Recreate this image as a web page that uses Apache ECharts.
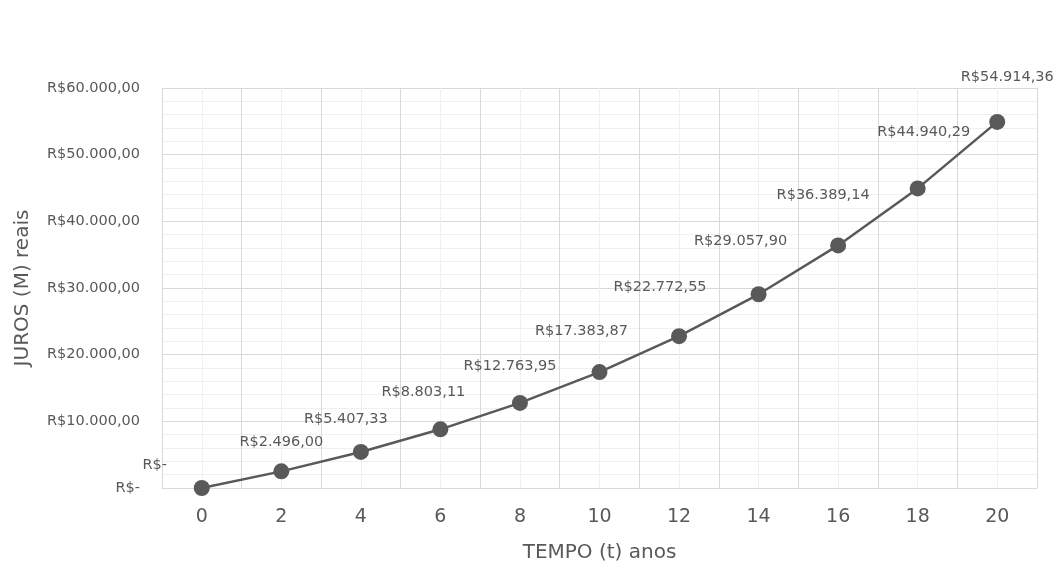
<!DOCTYPE html>
<html>
<head>
<meta charset="utf-8">
<script src="https://cdn.jsdelivr.net/npm/echarts@6/dist/echarts.min.js"></script>
<style>
  html, body { margin: 0; padding: 0; background: #fff; }
  #main { width: 1062px; height: 571px; }
</style>
</head>
<body>
<div id="main"></div>
<script>
// anos (t)
var anos = ['0', '2', '4', '6', '8', '10', '12', '14', '16', '18', '20'];
// juros (M) em reais
var juros = [0, 2496.00, 5407.33, 8803.11, 12763.95, 17383.87, 22772.55, 29057.90, 36389.14, 44940.29, 54914.36];
// posição dos rótulos (ajuste manual como no excel)
var labelOffsets = [[-47, -23], [0, -29], [-15, -33], [-17, -37], [-10, -37], [-18, -41],
                    [-19, -49], [-18, -53], [-15, -50], [6, -56], [10, -45]];

var FONT = 'DejaVu Sans';
var CINZA = '#595959';

function reais(v) {
    if (v === 0) return 'R$-';
    var s = v.toFixed(2).split('.');
    var inteiro = s[0].replace(/\B(?=(\d{3})+(?!\d))/g, '.');
    return 'R$' + inteiro + ',' + s[1];
}

var myChart = echarts.init(document.getElementById('main'), null, { renderer: 'canvas' });

var option = {
    animation: false,
    textStyle: { fontFamily: FONT },
    grid: { left: 162, right: 25, top: 88, bottom: 83 },
    xAxis: [{
        type: 'category',
        data: anos,
        boundaryGap: true,
        name: 'TEMPO (t) anos',
        nameLocation: 'middle',
        nameGap: 55,
        nameTextStyle: { color: CINZA, fontSize: 20, fontFamily: FONT },
        axisLine: { lineStyle: { color: '#d9d9d9' } },
        axisTick: { show: false },
        axisLabel: { color: CINZA, fontSize: 19, margin: 20, fontFamily: FONT },
        splitLine: { show: true, lineStyle: { color: '#d9d9d9', width: 1 } },
        z: 3
    }, {
        // linhas de grade secundárias (meio de cada categoria)
        type: 'value',
        min: 0,
        max: 22,
        interval: 1,
        position: 'bottom',
        axisLine: { show: false },
        axisTick: { show: false },
        axisLabel: { show: false },
        splitLine: { show: true, lineStyle: { color: '#f0f0f0', width: 1 } },
        z: 1
    }],
    yAxis: {
        type: 'value',
        min: 0,
        max: 60000,
        interval: 10000,
        name: 'JUROS (M) reais',
        nameLocation: 'middle',
        nameGap: 129,
        nameTextStyle: { color: CINZA, fontSize: 20, fontFamily: FONT },
        axisLine: { show: false },
        axisTick: { show: false },
        axisLabel: {
            color: CINZA, fontSize: 14.5, margin: 22, fontFamily: FONT,
            formatter: function (v) { return reais(v); }
        },
        splitLine: { show: true, lineStyle: { color: '#d9d9d9' } },
        minorTick: { show: false, splitNumber: 5 },
        minorSplitLine: { show: true, lineStyle: { color: '#f0f0f0' } }
    },
    series: [{
        type: 'line',
        xAxisIndex: 0,
        data: juros.map(function (v, i) {
            return {
                value: v,
                label: { offset: labelOffsets[i] }
            };
        }),
        symbol: 'circle',
        symbolSize: 16,
        lineStyle: { color: CINZA, width: 2.5 },
        itemStyle: { color: CINZA },
        label: {
            show: true,
            position: 'inside',
            color: CINZA,
            fontSize: 14.5,
            fontFamily: FONT,
            formatter: function (p) { return reais(p.value); }
        },
        z: 5
    }]
};

myChart.setOption(option);
</script>
</body>
</html>
